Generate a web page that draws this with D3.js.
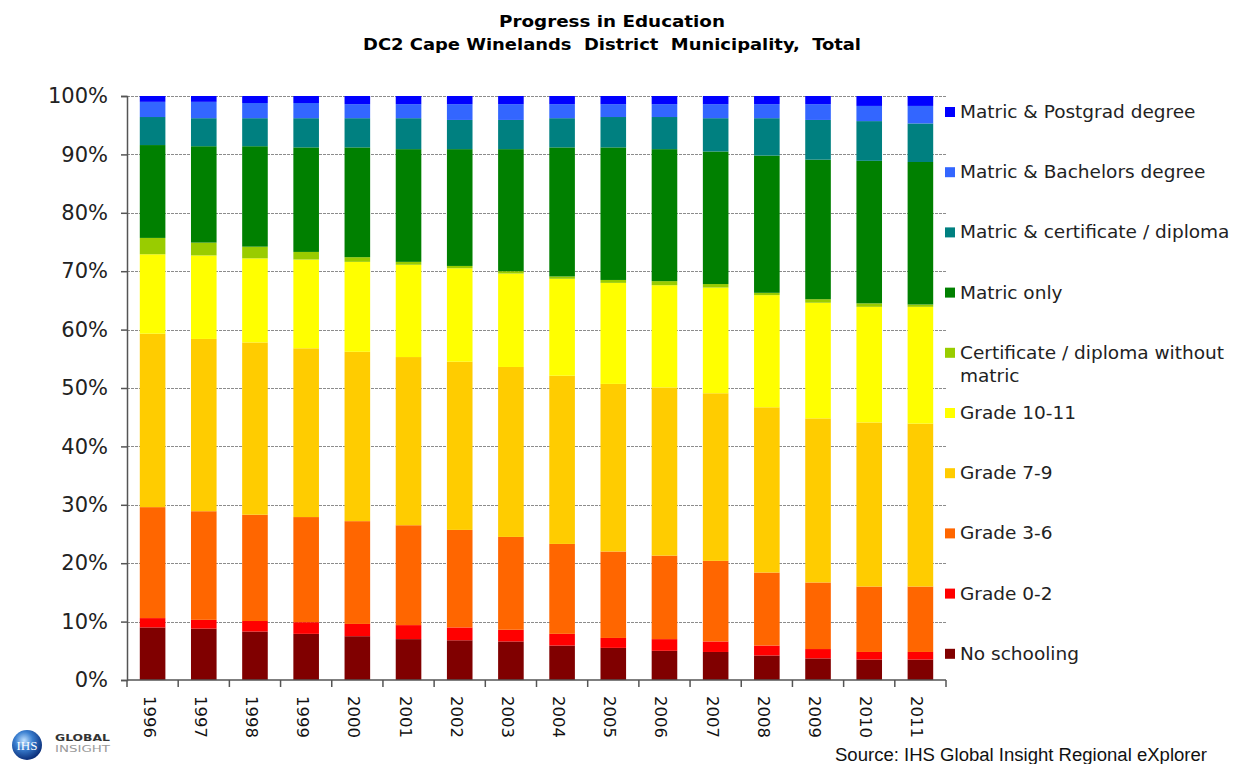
<!DOCTYPE html>
<html>
<head>
<meta charset="utf-8">
<script src="https://cdn.jsdelivr.net/npm/d3@7"></script>
<style>
  body { margin: 0; background: #fff; }
  svg { display: block; }
</style>
</head>
<body>
<svg id="chart" width="1233" height="764"></svg>
<script>
// years on the x axis
const years = ['1996', '1997', '1998', '1999', '2000', '2001', '2002', '2003',
  '2004', '2005', '2006', '2007', '2008', '2009', '2010', '2011'];

// series, bottom of the stack first
const categories = ['No schooling', 'Grade 0-2', 'Grade 3-6', 'Grade 7-9', 'Grade 10-11',
  'Certificate / diploma without matric', 'Matric only', 'Matric & certificate / diploma',
  'Matric & Bachelors degree', 'Matric & Postgrad degree'];

const colors = ['#800000', '#ff0000', '#ff6600', '#ffcc00', '#ffff00',
  '#99cc00', '#008000', '#008080', '#3366ff', '#0000ff'];

// shares in %, one value per year
const noSchooling = [9.0, 8.8, 8.3, 7.9, 7.5, 7.0, 6.8, 6.6, 5.9, 5.5, 5.0, 4.8, 4.2, 3.7, 3.5, 3.5];
const grade02 = [1.6, 1.5, 1.8, 2.0, 2.1, 2.4, 2.2, 2.0, 2.0, 1.7, 2.0, 1.8, 1.7, 1.6, 1.3, 1.3];
const grade36 = [19.0, 18.6, 18.2, 18.0, 17.6, 17.1, 16.7, 15.9, 15.4, 14.8, 14.3, 13.8, 12.5, 11.4, 11.2, 11.2];
const grade79 = [29.7, 29.5, 29.5, 28.9, 29.0, 28.8, 28.8, 29.1, 28.8, 28.7, 28.8, 28.7, 28.3, 28.1, 28.1, 27.9];
const grade1011 = [13.6, 14.3, 14.4, 15.2, 15.4, 15.8, 16.0, 16.0, 16.6, 17.3, 17.5, 18.1, 19.2, 19.8, 19.8, 20.0];
const certNoMatric = [2.8, 2.2, 2.0, 1.3, 0.8, 0.5, 0.4, 0.4, 0.4, 0.5, 0.7, 0.6, 0.4, 0.6, 0.6, 0.4];
const matricOnly = [15.9, 16.5, 17.2, 17.9, 18.8, 19.3, 20.0, 20.9, 22.1, 22.7, 22.6, 22.7, 23.5, 23.9, 24.4, 24.4];
const matricCert = [4.8, 4.8, 4.8, 5.0, 5.0, 5.3, 5.0, 5.0, 5.0, 5.2, 5.5, 5.7, 6.4, 6.8, 6.8, 6.6];
const matricBachelors = [2.6, 2.8, 2.6, 2.6, 2.4, 2.4, 2.7, 2.7, 2.4, 2.2, 2.2, 2.4, 2.4, 2.7, 2.6, 3.0];
const matricPostgrad = [1.0, 1.0, 1.2, 1.2, 1.4, 1.4, 1.4, 1.4, 1.4, 1.4, 1.4, 1.4, 1.4, 1.4, 1.7, 1.7];

const yTicks = [0, 10, 20, 30, 40, 50, 60, 70, 80, 90, 100];

const seriesValues = [noSchooling, grade02, grade36, grade79, grade1011,
  certNoMatric, matricOnly, matricCert, matricBachelors, matricPostgrad];

// one row per year for d3.stack
const rows = years.map((year, i) => {
  const row = { year };
  categories.forEach((c, k) => { row[c] = seriesValues[k][i]; });
  return row;
});

const svg = d3.select('#chart');
const margin = { left: 127, right: 946, top: 96, bottom: 680 };

const x = d3.scaleBand()
  .domain(years)
  .range([margin.left, margin.right])
  .paddingInner(0.5)
  .paddingOuter(0.25);

const y = d3.scaleLinear()
  .domain([0, 100])
  .range([margin.bottom, margin.top]);

const stack = d3.stack().keys(categories);
const stacked = stack(rows);

// title
const title = svg.append('g')
  .attr('font-family', '"DejaVu Sans Condensed", "DejaVu Sans", sans-serif')
  .attr('font-weight', 'bold')
  .attr('font-size', 16)
  .attr('text-anchor', 'middle')
  .attr('fill', '#000');
title.append('text').attr('x', 612).attr('y', 27)
  .attr('textLength', 226).attr('lengthAdjust', 'spacingAndGlyphs')
  .text('Progress in  Education');
title.append('text').attr('x', 612).attr('y', 50)
  .attr('textLength', 498).attr('lengthAdjust', 'spacingAndGlyphs')
  .attr('xml:space', 'preserve')
  .text('DC2 Cape Winelands  District  Municipality,  Total');

// dashed gridlines
svg.append('g')
  .selectAll('line')
  .data(yTicks.filter((d) => d > 0))
  .join('line')
  .attr('x1', margin.left)
  .attr('x2', margin.right)
  .attr('y1', (d) => Math.round(y(d)) + 0.5)
  .attr('y2', (d) => Math.round(y(d)) + 0.5)
  .attr('stroke', '#8c8c8c')
  .attr('stroke-width', 1)
  .attr('stroke-dasharray', '3,1');

// bars
svg.append('g')
  .selectAll('g')
  .data(stacked)
  .join('g')
  .attr('fill', (d, i) => colors[i])
  .selectAll('rect')
  .data((d) => d)
  .join('rect')
  .attr('x', (d) => x(d.data.year))
  .attr('width', x.bandwidth())
  .attr('y', (d) => y(d[1]))
  .attr('height', (d) => y(d[0]) - y(d[1]));

// y axis
const yAxis = svg.append('g')
  .attr('transform', `translate(${margin.left},0)`)
  .call(d3.axisLeft(y).tickValues(yTicks).tickFormat((d) => d + '%').tickSize(6).tickPadding(13));
yAxis.select('.domain').attr('stroke', '#555').attr('stroke-width', 1.5);
yAxis.selectAll('.tick line').attr('stroke', '#555').attr('stroke-width', 1.5);
yAxis.selectAll('text')
  .attr('font-family', '"DejaVu Sans", Verdana, sans-serif')
  .attr('font-size', 21)
  .attr('fill', '#222');

// x axis: ticks at band edges, rotated year labels
const xAxis = svg.append('g');
xAxis.append('line')
  .attr('x1', margin.left).attr('x2', margin.right)
  .attr('y1', margin.bottom).attr('y2', margin.bottom)
  .attr('stroke', '#555').attr('stroke-width', 1.5);
const step = x.step();
xAxis.selectAll('.xtick')
  .data(d3.range(years.length + 1))
  .join('line')
  .attr('class', 'xtick')
  .attr('x1', (i) => margin.left + i * step)
  .attr('x2', (i) => margin.left + i * step)
  .attr('y1', margin.bottom)
  .attr('y2', margin.bottom + 7)
  .attr('stroke', '#555')
  .attr('stroke-width', 1.5);
xAxis.selectAll('.xlabel')
  .data(years)
  .join('text')
  .attr('class', 'xlabel')
  .attr('transform', (d) => `translate(${x(d) + x.bandwidth() / 2 - 9},696) rotate(90)`)
  .attr('font-family', '"DejaVu Sans", Verdana, sans-serif')
  .attr('font-size', 16.5)
  .attr('fill', '#111')
  .text((d) => d);

// legend, top item first
const legendItems = categories.map((c, i) => ({ name: c, color: colors[i] })).reverse();
const legend = svg.append('g')
  .attr('font-family', '"DejaVu Sans", Verdana, sans-serif')
  .attr('font-size', 18.5)
  .attr('fill', '#222');
legendItems.forEach((item, i) => {
  const base = 118 + i * 60.2;
  legend.append('rect')
    .attr('x', 945).attr('y', base - 11)
    .attr('width', 10).attr('height', 10)
    .attr('fill', item.color);
  if (item.name.startsWith('Certificate')) {
    legend.append('text').attr('x', 960).attr('y', base).text('Certificate / diploma without');
    legend.append('text').attr('x', 960).attr('y', base + 23.4).text('matric');
  } else {
    legend.append('text').attr('x', 960).attr('y', base).text(item.name);
  }
});

// source note
svg.append('text')
  .attr('x', 835).attr('y', 761)
  .attr('font-family', '"Liberation Sans", Arial, sans-serif')
  .attr('font-size', 18)
  .attr('fill', '#111')
  .attr('textLength', 372).attr('lengthAdjust', 'spacingAndGlyphs')
  .text('Source: IHS  Global Insight Regional eXplorer');

// logo
const defs = svg.append('defs');
const grad = defs.append('radialGradient').attr('id', 'ball')
  .attr('cx', '40%').attr('cy', '35%').attr('r', '65%');
grad.append('stop').attr('offset', '0%').attr('stop-color', '#bfe0ff');
grad.append('stop').attr('offset', '45%').attr('stop-color', '#3a7fd0');
grad.append('stop').attr('offset', '100%').attr('stop-color', '#0b2f7a');
const logo = svg.append('g');
logo.append('circle').attr('cx', 27).attr('cy', 745).attr('r', 15).attr('fill', 'url(#ball)');
logo.append('text').attr('x', 27).attr('y', 750)
  .attr('text-anchor', 'middle')
  .attr('font-family', '"Liberation Serif", serif')
  .attr('font-size', 13).attr('fill', '#fff')
  .text('IHS');
logo.append('text').attr('x', 55).attr('y', 741)
  .attr('font-family', '"DejaVu Sans", sans-serif').attr('font-weight', 'bold')
  .attr('font-size', 9).attr('fill', '#333')
  .attr('textLength', 55).attr('lengthAdjust', 'spacingAndGlyphs')
  .text('GLOBAL');
logo.append('text').attr('x', 55).attr('y', 752)
  .attr('font-family', '"DejaVu Sans", sans-serif')
  .attr('font-size', 9).attr('fill', '#999')
  .attr('textLength', 55).attr('lengthAdjust', 'spacingAndGlyphs')
  .text('INSIGHT');
</script>
</body>
</html>
